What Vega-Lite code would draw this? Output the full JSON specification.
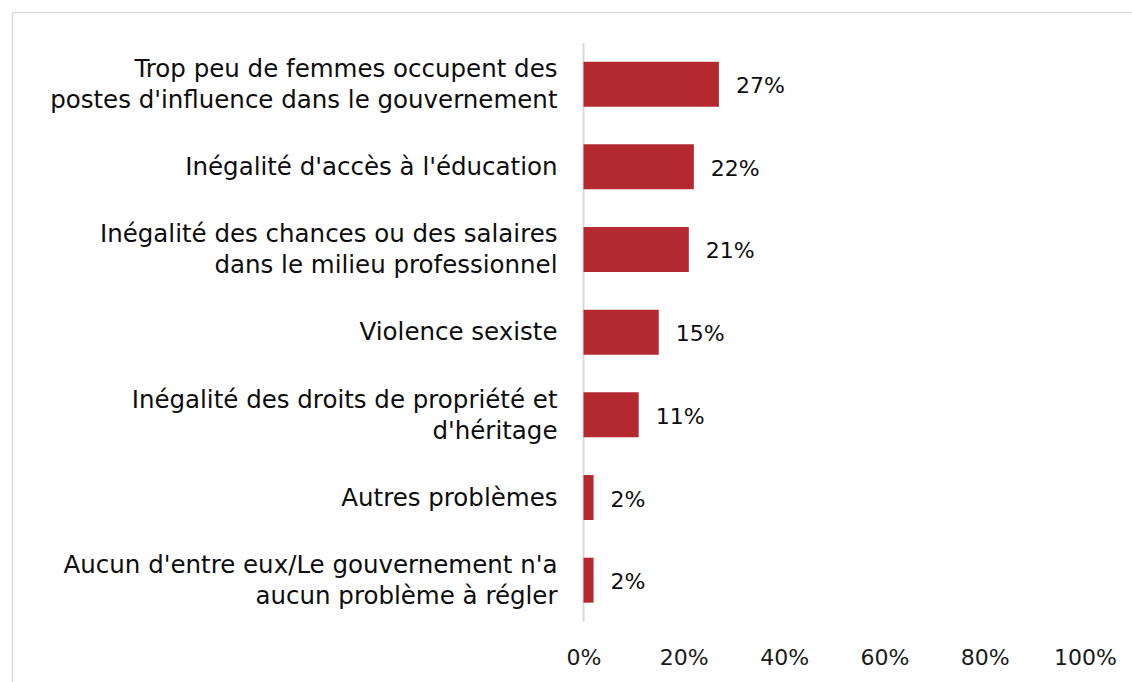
{
  "$schema": "https://vega.github.io/schema/vega-lite/v6.json",
  "width": 1120,
  "height": 670,
  "autosize": {"type": "none"},
  "padding": {"left": 12, "top": 12, "right": 0, "bottom": 0},
  "background": "white",
  "config": {"view": {"stroke": null}, "font": "DejaVu Sans"},
  "data": {
    "values": [
      {"cat": "Trop peu de femmes occupent des|postes d'influence dans le gouvernement", "value": 0.27},
      {"cat": "Inégalité d'accès à l'éducation", "value": 0.22},
      {"cat": "Inégalité des chances ou des salaires|dans le milieu professionnel", "value": 0.21},
      {"cat": "Violence sexiste", "value": 0.15},
      {"cat": "Inégalité des droits de propriété et|d'héritage", "value": 0.11},
      {"cat": "Autres problèmes", "value": 0.02},
      {"cat": "Aucun d'entre eux/Le gouvernement n'a|aucun problème à régler", "value": 0.02}
    ]
  },
  "encoding": {
    "y": {
      "field": "cat",
      "type": "nominal",
      "sort": null,
      "scale": {"paddingInner": 0.456, "paddingOuter": 0.78, "align": 0.385},
      "axis": {
        "orient": "left",
        "title": null,
        "domain": true,
        "domainColor": "#d9d9d9",
        "domainWidth": 1.5,
        "ticks": false,
        "tickSize": 0,
        "grid": false,
        "labelPadding": -545,
        "labelFontSize": 24.5,
        "labelColor": "#0d0d0d",
        "labelLineHeight": 31,
        "labelExpr": "split(datum.label, '|')",
        "labelLimit": 0,
        "labelAlign": "right",
        "labelBaseline": "middle",
        "labelOffset": {"condition": {"test": "indexof(datum.value, '|') >= 0", "value": -14}, "value": 1}
      }
    },
    "x": {
      "field": "value",
      "type": "quantitative",
      "scale": {"domain": [-1.1396, 1.0937], "nice": false, "zero": false},
      "axis": {
        "orient": "top",
        "title": null,
        "values": [0, 0.2, 0.4, 0.6, 0.8, 1],
        "format": ".0%",
        "domain": true,
        "domainColor": "#d9d9d9",
        "domainWidth": 1.5,
        "ticks": false,
        "tickSize": 0,
        "grid": false,
        "labelPadding": -645,
        "labelBaseline": "middle",
        "labelFontSize": 22,
        "labelColor": "#1a1a1a",
        "labelFlush": false,
        "labelOverlap": false
      }
    }
  },
  "layer": [
    {
      "mark": {"type": "rule", "color": "#d9d9d9", "strokeWidth": 2},
      "encoding": {
        "x": {"datum": 0, "type": "quantitative"},
        "y": {"field": "cat", "type": "nominal", "sort": null, "bandPosition": -0.415},
        "y2": {"field": "cat", "bandPosition": 1.422}
      }
    },
    {
      "mark": {"type": "bar", "color": "#b4292f"}
    },
    {
      "mark": {"type": "text", "align": "left", "baseline": "middle", "dx": 17, "dy": 2, "fontSize": 22, "color": "#0d0d0d"},
      "encoding": {
        "text": {"field": "value", "type": "quantitative", "format": ".0%"}
      }
    }
  ]
}
